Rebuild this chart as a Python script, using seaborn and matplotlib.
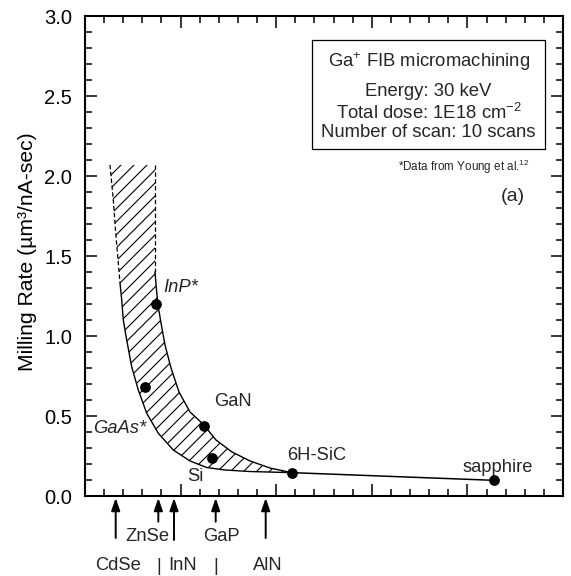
import matplotlib
matplotlib.use("Agg")
import numpy as np
import pandas as pd
import matplotlib.pyplot as plt
from matplotlib.ticker import MultipleLocator, NullFormatter, FormatStrFormatter
from matplotlib.collections import LineCollection
from matplotlib.patches import Rectangle, Polygon
import seaborn as sns

# ---------------- data ----------------
materials = ["InP*", "GaAs*", "GaN", "Si", "6H-SiC", "sapphire"]
pos_x = [0.743, 0.628, 1.240, 1.325, 2.162, 4.278]
rate = [1.197, 0.683, 0.435, 0.240, 0.146, 0.098]

# hatched band: left/lower boundary (dashed part, then solid part)
lower_dash_x = [0.2615, 0.2960, 0.3211, 0.3483, 0.3661]
lower_dash_y = [2.069, 1.850, 1.644, 1.456, 1.331]
lower_x = [0.3661, 0.3839, 0.4006, 0.4362, 0.4885, 0.5575, 0.6454, 0.7667,
           0.9236, 1.0983, 1.2730, 1.4644, 1.7259, 2.1621]
lower_y = [1.331, 1.225, 1.100, 0.975, 0.808, 0.6625, 0.517, 0.392,
           0.2875, 0.219, 0.178, 0.1625, 0.153, 0.146]
# right/upper boundary (dashed part, then solid part)
upper_dash_x = [0.7322, 0.7322]
upper_dash_y = [2.069, 1.400]
upper_x = [0.7322, 0.7479, 0.7636, 0.7950, 0.8368, 0.8996, 0.9833, 1.0983,
           1.2343, 1.3703, 1.5377, 1.7259, 1.9351, 2.1621]
upper_y = [1.400, 1.2875, 1.194, 1.081, 0.944, 0.800, 0.650, 0.525,
           0.450, 0.350, 0.275, 0.219, 0.175, 0.146]

# materials marked by arrows below the x axis
arrow_materials = ["CdSe", "ZnSe", "InN", "GaP", "AlN"]
arrow_x = [0.321, 0.767, 0.931, 1.367, 1.890]

box_lines = ["Ga$^{+}$ FIB micromachining", "Energy: 30 keV",
             "Total dose: 1E18 cm$^{-2}$", "Number of scan: 10 scans"]

# ---------------- style ----------------
sns.set_theme(style="ticks")
plt.rcParams["font.family"] = ["Liberation Sans", "DejaVu Sans"]
plt.rcParams["mathtext.fontset"] = "custom"
plt.rcParams["mathtext.rm"] = "Liberation Sans"
plt.rcParams["mathtext.it"] = "Liberation Sans:italic"
plt.rcParams["mathtext.bf"] = "Liberation Sans:bold"

fig = plt.figure(figsize=(5.71, 5.76), dpi=100)
ax = fig.add_axes([85 / 571, 80 / 576, 478 / 571, 480 / 576])
ax.set_xlim(0, 5)
ax.set_ylim(0, 3)

# band polygon (invisible, used as hatch clip)
bx = lower_dash_x + lower_x[1:] + upper_x[::-1][1:] + upper_dash_x[::-1][1:]
by = lower_dash_y + lower_y[1:] + upper_y[::-1][1:] + upper_dash_y[::-1][1:]
poly = Polygon(np.column_stack([bx, by]), closed=True, facecolor="none",
               edgecolor="none")
ax.add_patch(poly)

# hatch lines clipped to the band
step = 13.0 / 480
slope = 478 / 480
segs = [[(0, c), (1, c + slope)] for c in np.arange(-1.2, 1.2, step)]
lc = LineCollection(segs, transform=ax.transAxes, colors="black",
                    linewidths=0.8)
lc.set_clip_path(poly)
ax.add_collection(lc, autolim=False)

# boundaries
dash = (0, (3.5, 2))
ax.plot(lower_dash_x, lower_dash_y, color="black", lw=0.9, ls=dash)
ax.plot(upper_dash_x, upper_dash_y, color="black", lw=0.9, ls=dash)
ax.plot(lower_x, lower_y, color="black", lw=1.0)
ax.plot(upper_x, upper_y, color="black", lw=1.0)

# SiC -> sapphire line
sns.lineplot(x=pos_x[4:], y=rate[4:], color="black", lw=1.1, ax=ax,
             sort=False, estimator=None)

# data dots
sns.scatterplot(x=pos_x, y=rate, color="black", s=60, linewidth=0,
                zorder=5, ax=ax, legend=False)

# point labels
label_pos = {"InP*": (0.816, 1.305, "italic"),
             "GaAs*": (0.087, 0.419, "italic"),
             "GaN": (1.349, 0.589, "normal"),
             "Si": (1.067, 0.121, "normal"),
             "6H-SiC": (2.113, 0.250, "normal"),
             "sapphire": (3.954, 0.175, "normal")}
for name in materials:
    lx, ly, st = label_pos[name]
    ax.text(lx, ly, name, fontsize=13.2, style=st, ha="left", va="center")

# arrows below the x axis
trans = ax.get_xaxis_transform()
arrow_start = {"CdSe": -0.0875, "ZnSe": -0.0535, "InN": -0.0917,
               "GaP": -0.0535, "AlN": -0.0875}
for name, x in zip(arrow_materials, arrow_x):
    ax.annotate("", xy=(x, -0.004), xytext=(x, arrow_start[name]),
                xycoords=trans, textcoords=trans, annotation_clip=False,
                arrowprops=dict(arrowstyle="-|>,head_length=0.75,head_width=0.26",
                                color="black", lw=1.4, shrinkA=0, shrinkB=0,
                                mutation_scale=10))

arrow_label_pos = {"ZnSe": (0.654, -0.085), "GaP": (1.430, -0.085),
                   "CdSe": (0.343, -0.144), "InN": (1.020, -0.144),
                   "AlN": (1.917, -0.144)}
for name in arrow_materials:
    lx, ly = arrow_label_pos[name]
    ax.text(lx, ly, name, transform=trans, fontsize=13.2, ha="center",
            va="center", clip_on=False)
for bxp in (0.774, 1.367):
    ax.text(bxp, -0.146, "|", transform=trans, fontsize=13.2, ha="center",
            va="center", clip_on=False)

# info box
ax.add_patch(Rectangle((0.475, 0.723), 0.487, 0.227, transform=ax.transAxes,
                       fill=False, lw=0.9, edgecolor="black"))
for txt, yy in zip(box_lines, [0.904, 0.842, 0.798, 0.758]):
    ax.text(0.719, yy, txt, transform=ax.transAxes, fontsize=13.3,
            ha="center", va="center")
ax.text(0.931, 0.685, "*Data from Young et al.$^{12}$", transform=ax.transAxes,
        fontsize=8.4, ha="right", va="center")
ax.text(0.9205, 0.623, "(a)", transform=ax.transAxes, fontsize=14,
        ha="right", va="center")

# axes styling
ax.xaxis.set_major_locator(MultipleLocator(1))
ax.xaxis.set_minor_locator(MultipleLocator(0.2))
ax.yaxis.set_major_locator(MultipleLocator(0.5))
ax.yaxis.set_minor_locator(MultipleLocator(0.1))
ax.xaxis.set_major_formatter(NullFormatter())
ax.yaxis.set_major_formatter(FormatStrFormatter("%.1f"))
ax.tick_params(which="both", direction="in", top=True, right=True,
               width=1.1, color="black")
ax.tick_params(which="major", length=8.3)
ax.tick_params(which="minor", length=4.7)
ax.tick_params(axis="y", labelsize=14.5, pad=9.4, labelcolor="black")
for sp in ax.spines.values():
    sp.set_linewidth(1.5)
    sp.set_color("black")
ax.set_xlabel("")
ax.set_ylabel("Milling Rate (µm³/nA-sec)", fontsize=15.2, color="black")
ax.yaxis.set_label_coords(-0.1005, 0.51)

fig.savefig("out.png", dpi=100)
